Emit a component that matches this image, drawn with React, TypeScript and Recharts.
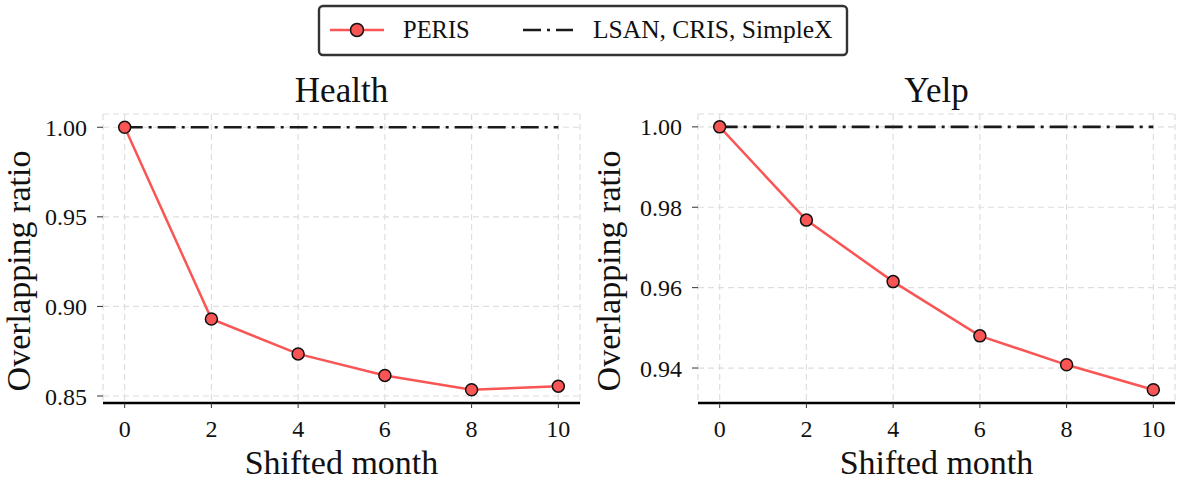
import React from "react";
import { LineChart, Line, XAxis, YAxis, CartesianGrid } from "recharts";

const months = [0, 2, 4, 6, 8, 10];
const healthPeris = [1.0, 0.893, 0.8735, 0.8615, 0.8535, 0.8555];
const yelpPeris = [1.0, 0.9768, 0.9615, 0.948, 0.9408, 0.9346];
const baseline = [1.0, 1.0, 1.0, 1.0, 1.0, 1.0];
const healthTicks = [0.85, 0.9, 0.95, 1.0];
const yelpTicks = [0.94, 0.96, 0.98, 1.0];

const RED = "#fa5555";
const INK = "#111";
const FONT = "'Liberation Serif', 'DejaVu Serif', serif";
const DASHDOT = "18 6 3 6";

const build = (peris: number[]) =>
  months.map((m, i) => ({ month: m, peris: peris[i], base: baseline[i] }));

function Panel(props: {
  title: string;
  data: { month: number; peris: number; base: number }[];
  domain: [number, number];
  ticks: number[];
  left: number;
  width: number;
  yAxisWidth: number;
  rightMargin: number;
}) {
  const { title, data, domain, ticks, left, width, yAxisWidth, rightMargin } = props;
  const plotCenter = (yAxisWidth + width - rightMargin) / 2;
  return (
    <div style={{ position: "absolute", left, top: 60, width, height: 431 }}>
      <LineChart
        width={width}
        height={431}
        data={data}
        margin={{ top: 54, right: rightMargin, left: 0, bottom: 0 }}
      >
        <text
          x={plotCenter}
          y={42}
          textAnchor="middle"
          fontFamily={FONT}
          fontSize={35}
          fill={INK}
        >
          {title}
        </text>
        <CartesianGrid stroke="#dedede" strokeDasharray="6 4" strokeWidth={1.2} />
        <XAxis
          dataKey="month"
          type="number"
          domain={[-0.5, 10.5]}
          ticks={months}
          height={88}
          axisLine={{ stroke: "#000", strokeWidth: 2.6 }}
          tickLine={{ stroke: "#333" }}
          tickSize={5}
          tick={{ fill: INK, fontFamily: FONT, fontSize: 24, dy: 10 }}
          label={{
            value: "Shifted month",
            position: "insideBottom",
            offset: 17,
            fill: INK,
            fontFamily: FONT,
            fontSize: 34,
          }}
        />
        <YAxis
          type="number"
          domain={domain}
          ticks={ticks}
          allowDataOverflow
          width={yAxisWidth}
          axisLine={false}
          tickLine={{ stroke: "#333" }}
          tickSize={6}
          tickFormatter={(v: number) => v.toFixed(2)}
          tick={{ fill: INK, fontFamily: FONT, fontSize: 24, dx: -8 }}
          label={() => (
            <text
              x={30}
              y={211}
              transform="rotate(-90, 30, 211)"
              textAnchor="middle"
              fontFamily={FONT}
              fontSize={34}
              fill={INK}
            >
              Overlapping ratio
            </text>
          )}
        />
        <Line
          dataKey="base"
          stroke="#1a1a1a"
          strokeWidth={2.6}
          strokeDasharray={DASHDOT}
          dot={false}
          isAnimationActive={false}
        />
        <Line
          dataKey="peris"
          stroke={RED}
          strokeWidth={2.5}
          dot={{ r: 6, fill: RED, stroke: INK, strokeWidth: 1.5 }}
          isAnimationActive={false}
        />
      </LineChart>
    </div>
  );
}

export default function App() {
  return (
    <div
      style={{
        position: "absolute",
        left: 0,
        top: 0,
        width: 1184,
        height: 491,
        background: "#fff",
        overflow: "hidden",
      }}
    >
      <svg
        width={1184}
        height={60}
        style={{ position: "absolute", left: 0, top: 0 }}
        fontFamily={FONT}
      >
        <rect
          x={319}
          y={6}
          width={528}
          height={49}
          rx={4}
          fill="#fff"
          stroke="#333"
          strokeWidth={2.4}
        />
        <line x1={330} y1={30} x2={384} y2={30} stroke={RED} strokeWidth={2.5} />
        <circle cx={357} cy={30} r={6.5} fill={RED} stroke={INK} strokeWidth={1.5} />
        <text x={403} y={38} fontSize={24.5} fill={INK}>
          PERIS
        </text>
        <line
          x1={523}
          y1={30}
          x2={573}
          y2={30}
          stroke="#1a1a1a"
          strokeWidth={2.6}
          strokeDasharray={DASHDOT}
        />
        <text x={593} y={38} fontSize={25.5} fill={INK}>
          LSAN, CRIS, SimpleX
        </text>
      </svg>
      <Panel
        title="Health"
        data={build(healthPeris)}
        domain={[0.8461, 1.0074]}
        ticks={healthTicks}
        left={0}
        width={590}
        yAxisWidth={103}
        rightMargin={10}
      />
      <Panel
        title="Yelp"
        data={build(yelpPeris)}
        domain={[0.9313, 1.0032]}
        ticks={yelpTicks}
        left={590}
        width={594}
        yAxisWidth={108}
        rightMargin={9}
      />
    </div>
  );
}
